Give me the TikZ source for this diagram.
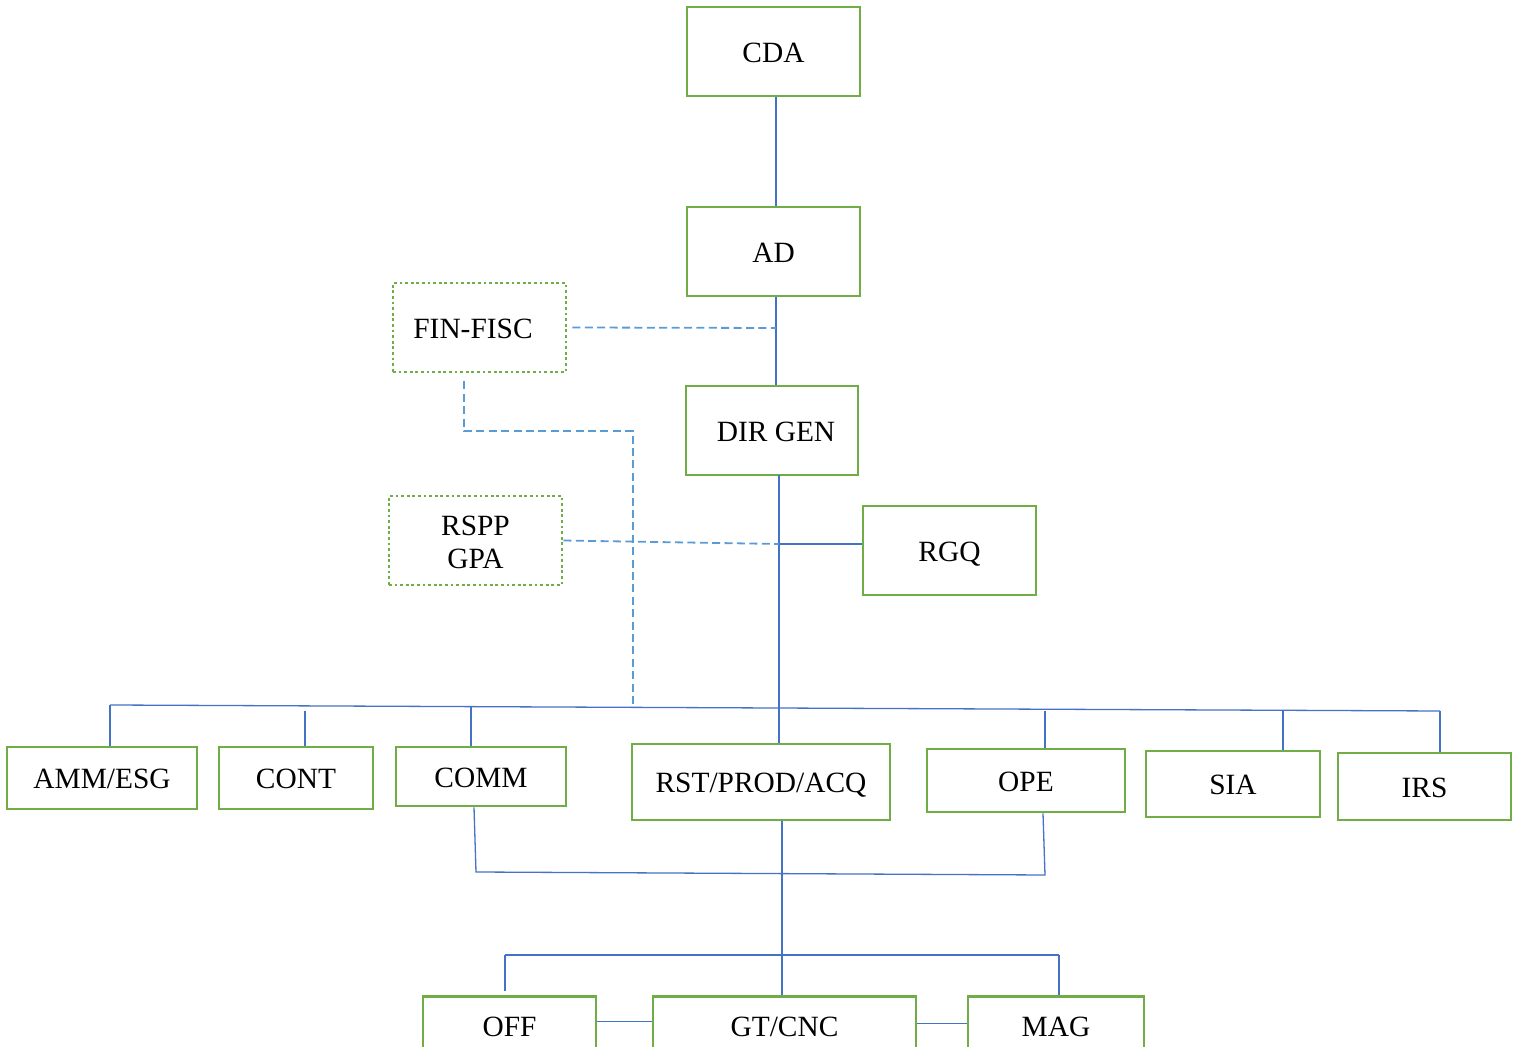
\documentclass[tikz,border=0pt]{standalone}
\usepackage{fontspec}
\setmainfont{Liberation Serif}
\definecolor{boxgreen}{HTML}{70AD47}
\definecolor{linkblue}{HTML}{4472C4}
\definecolor{dashblue}{HTML}{5B9BD5}
\tikzset{
  unit/.style={draw=boxgreen, line width=1.4pt, rectangle, inner sep=0pt, align=center,
    font=\fontsize{14.7}{16.5}\selectfont, text height=10.8pt, text depth=0pt},
  dotunit/.style={unit, dash pattern=on 1.4pt off 1.4pt},
  conn/.style={draw=linkblue, line width=0.65pt},
  dconn/.style={draw=dashblue, line width=0.9pt, dash pattern=on 4pt off 2.2pt},
}
\begin{document}
\begin{tikzpicture}[x=0.5pt,y=-0.5pt]
\useasboundingbox (0,0) rectangle (1516,1047);
\clip (0,0) rectangle (1516,1047);
% boxes
\node[unit, minimum width=86.5pt, minimum height=44.5pt] (CDA) at (773.5,51.5) {CDA};
\node[unit, minimum width=86.5pt, minimum height=44.5pt] (AD) at (773.5,251.5) {AD};
\node[dotunit, minimum width=86.5pt, minimum height=44.5pt] (FIN) at (479.5,327.5) {FIN-FISC\hspace*{6.5pt}};
\node[unit, minimum width=86pt, minimum height=44.5pt] (DIR) at (772,430.5) {\hspace*{4pt}DIR GEN};
\node[dotunit, minimum width=86.5pt, minimum height=44.5pt, text height=28.4pt] (RSPP) at (475.5,540.5) {RSPP\\GPA};
\node[unit, minimum width=86.5pt, minimum height=44.5pt] (RGQ) at (949.5,550.5) {RGQ};
\node[unit, minimum width=95pt, minimum height=31pt] (AMM) at (102,778) {AMM/ESG};
\node[unit, minimum width=77pt, minimum height=31pt] (CONT) at (296,778) {CONT};
\node[unit, minimum width=85pt, minimum height=29.5pt] (COMM) at (481,776.5) {COMM};
\node[unit, minimum width=129pt, minimum height=38pt] (RST) at (761,782) {RST/PROD/ACQ};
\node[unit, minimum width=99pt, minimum height=31.5pt] (OPE) at (1026,780.5) {OPE};
\node[unit, minimum width=87pt, minimum height=33pt] (SIA) at (1233,784) {SIA};
\node[unit, minimum width=86.5pt, minimum height=33.5pt] (IRS) at (1424.5,786.5) {IRS};
\node[unit, minimum width=86.5pt, minimum height=29pt] (OFF) at (509.5,1025.5) {OFF};
\node[unit, minimum width=131.5pt, minimum height=29pt] (GT) at (784.5,1025.5) {GT/CNC};
\node[unit, minimum width=88pt, minimum height=29pt] (MAG) at (1056,1025.5) {MAG};
% junction coordinates
\coordinate (j1) at (776,328);
\coordinate (f1) at (464,431);
\coordinate (f2) at (633,431);
\coordinate (f3) at (633,708);
\coordinate (d0) at (779,475);
\coordinate (j2) at (779,544);
\coordinate (bL) at (110,705);
\coordinate (bR) at (1440,711);
\coordinate (cC) at (305,711);
\coordinate (cM) at (471,706);
\coordinate (cO) at (1045,711);
\coordinate (cS) at (1283,711);
\coordinate (k1) at (476,872);
\coordinate (k2) at (1045,875);
\coordinate (b2L) at (505,955);
\coordinate (b2R) at (1059,955);
% vertical spine
\draw[conn] ([xshift=1.25pt]CDA.south) -- ([xshift=1.25pt]AD.north);
\draw[conn] ([xshift=1.25pt]AD.south) -- ([xshift=1.25pt]AD.south |- DIR.north);
\draw[conn] (d0) -- (d0 |- RST.north);
\draw[conn] (j2) -- (j2 -| RGQ.west);
% dashed links
\draw[dconn] ([xshift=2.5pt]FIN.east) -- (j1);
\draw[dconn] ([yshift=-4pt]FIN.south -| f1) -- (f1) -- (f2) -- (f3);
\draw[dconn] (RSPP.east) -- (j2);
% upper bus
\draw[conn] (bL) -- (bR);
\draw[conn, line width=1.2pt] (bL) -- (bL |- AMM.north);
\draw[conn] (cC) -- (cC |- CONT.north);
\draw[conn] (cM) -- (cM |- COMM.north);
\draw[conn] (cO) -- (cO |- OPE.north);
\draw[conn] (cS) -- (cS |- SIA.north);
\draw[conn] (bR) -- (bR |- IRS.north);
% COMM - OPE loop
\draw[conn] ([xshift=-3.5pt]COMM.south) -- (k1) -- (k2) -- ([xshift=8.5pt]OPE.south);
% lower part
\draw[conn] ([xshift=10.5pt]RST.south) -- ([xshift=10.5pt]RST.south |- GT.north);
\draw[conn] (b2L) -- (b2R);
\draw[conn] (b2L) -- ([yshift=2pt]b2L |- OFF.north);
\draw[conn] (b2R) -- (b2R |- MAG.north);
\draw[conn] ([yshift=2pt]OFF.east) -- ([yshift=2pt]GT.west);
\draw[conn] ([yshift=1pt]GT.east) -- ([yshift=1pt]MAG.west);
\end{tikzpicture}
\end{document}
